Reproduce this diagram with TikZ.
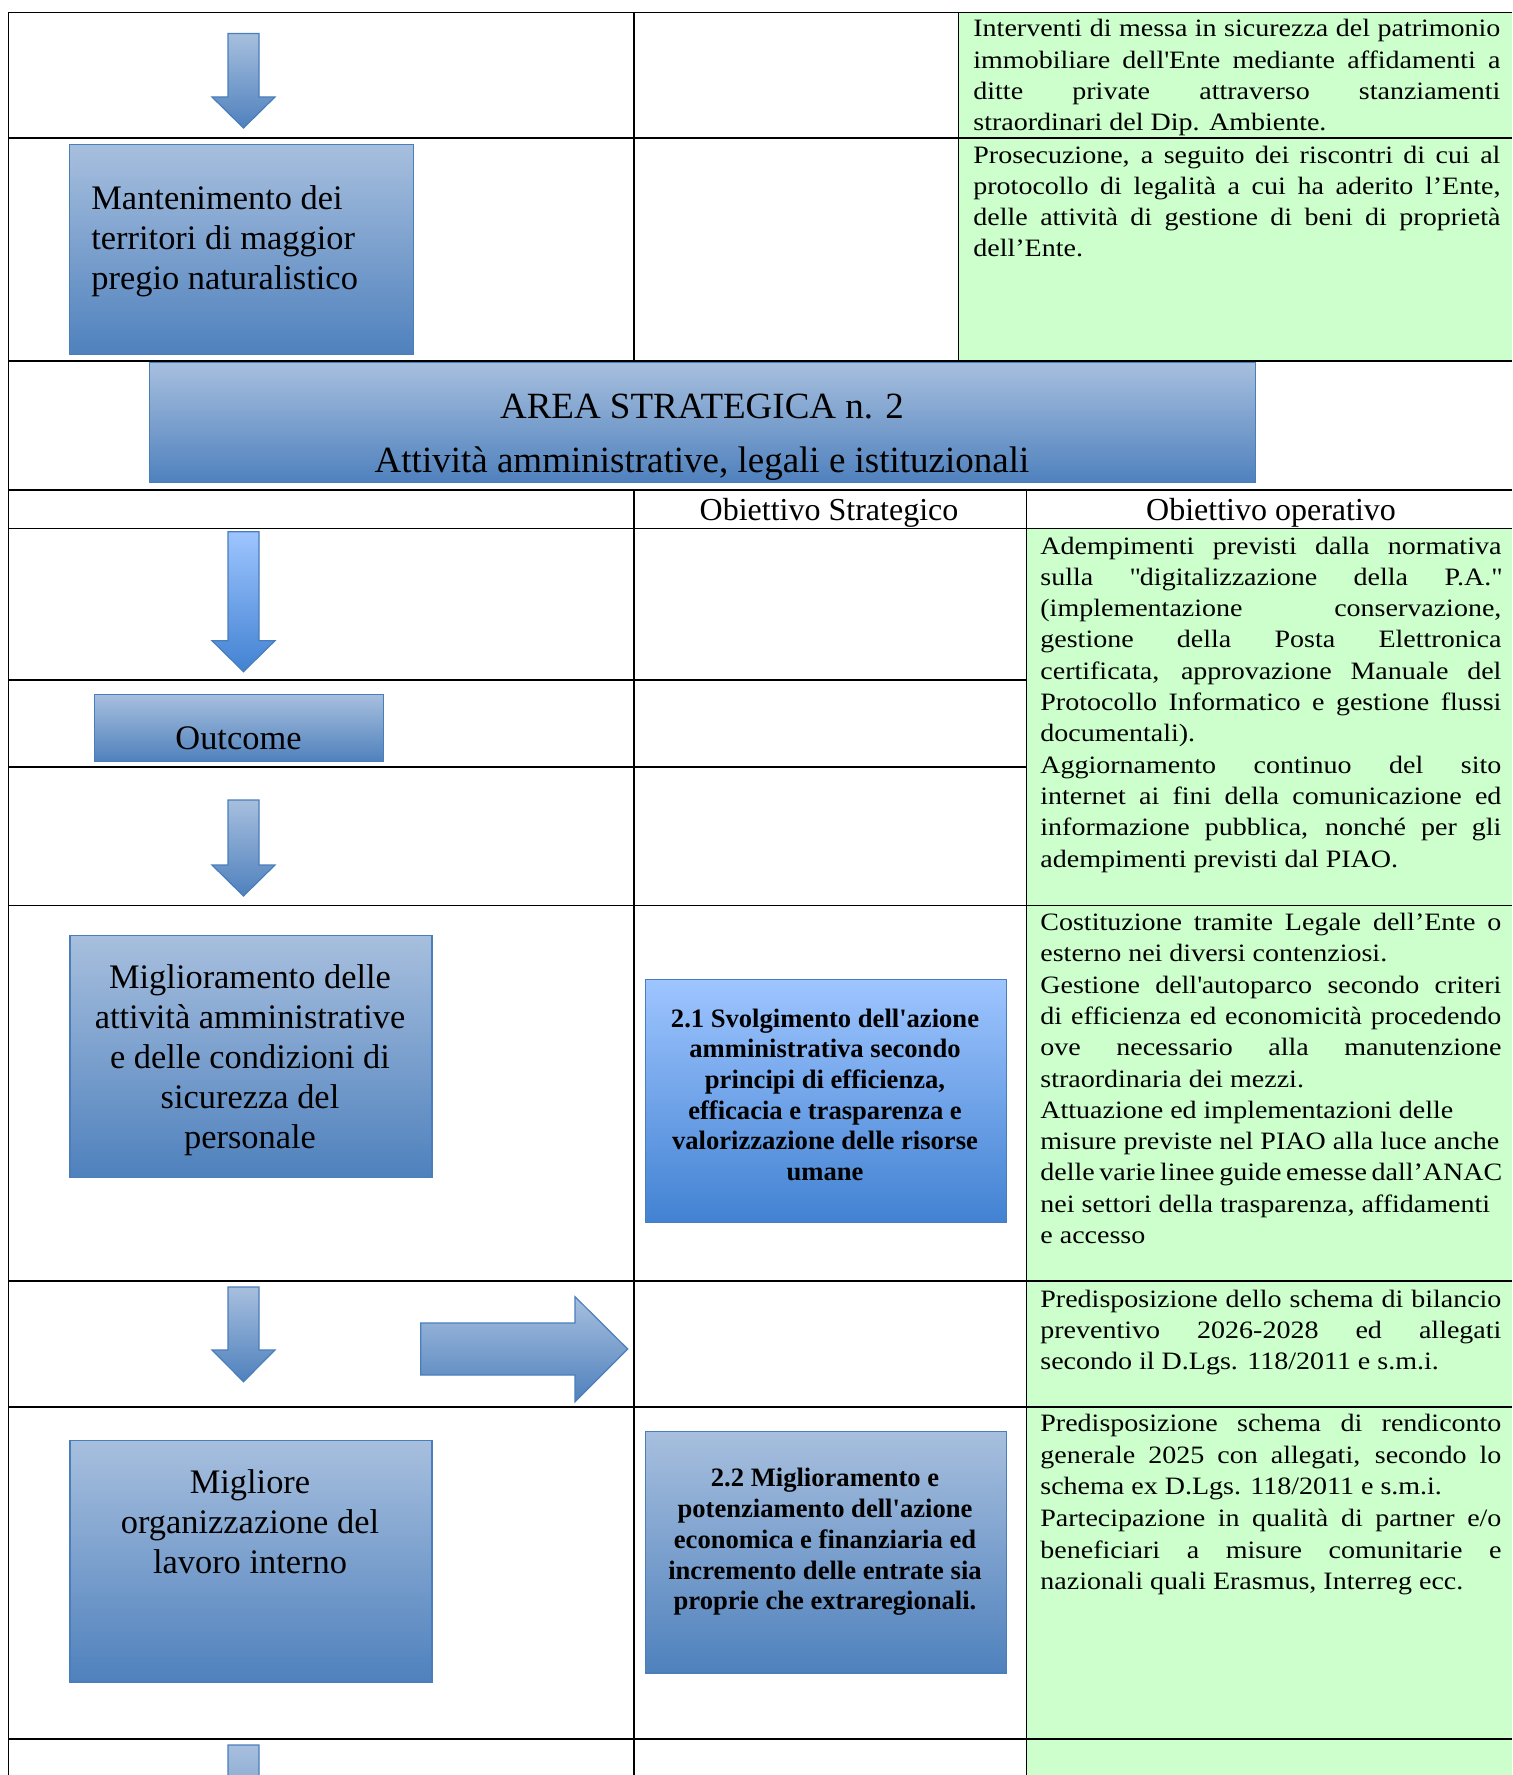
\documentclass[tikz,border=0pt]{standalone}
\usepackage{fontspec}
\setmainfont{Liberation Serif}
\newfontfamily\verde[FakeStretch=1.12]{Liberation Serif}

\definecolor{celeste}{HTML}{A7BFDE}
\definecolor{blu}{HTML}{4F81BD}
\definecolor{bordo}{HTML}{4A7EBB}
\definecolor{chiaro}{HTML}{9EC5FF}
\definecolor{vivo}{HTML}{4282D2}
\definecolor{verdino}{HTML}{CCFFCC}

% righe di testo: giustificata, a sinistra, centrata
\newcommand{\rigaj}[1]{\hbox to \hsize{#1}}
\newcommand{\rigal}[1]{\hbox to \hsize{#1\hfil}}
\newcommand{\rigac}[1]{\hbox to \hsize{\hfil#1\hfil}}
\newcommand{\blocco}[3]{\vtop{\hsize=#1\baselineskip=#2\lineskiplimit=-20pt\relax #3}}

\begin{document}
\begin{tikzpicture}[x=0.5pt,y=-0.5pt,
    linea/.style={line width=0.8pt},
    blubox/.style={draw=bordo, line width=0.6pt, top color=celeste, bottom color=blu, inner sep=0, anchor=north west},
    vivobox/.style={draw=bordo, line width=0.6pt, top color=chiaro, bottom color=vivo, inner sep=0, anchor=north west},
    freccia/.style={draw=bordo, line width=0.6pt, top color=celeste, bottom color=blu},
    frecciaviva/.style={draw=bordo, line width=0.6pt, top color=chiaro, bottom color=vivo},
    testo/.style={inner sep=0, anchor=base},
    cella/.style={inner sep=0, anchor=base west, font=\verde\fontsize{12.5}{15.6}\selectfont},
    titolo/.style={testo, font=\fontsize{17.2}{20}\selectfont},
    grassetto/.style={testo, font=\bfseries\fontsize{13.3}{15.4}\selectfont}]
    \useasboundingbox (0,0) rectangle (1512,1775);
    \clip (0,0) rectangle (1512,1775);

    % Celle verdi
    \fill[verdino] (958.5,12.5) rectangle (1512,361);
    \fill[verdino] (1026.5,528.5) rectangle (1512,1775);

    % Tabella
    \draw[linea] (8.5,12.5) -- (8.5,1775);
    \draw[linea] (634,12.5) -- (634,361);
    \draw[linea] (958.5,12.5) -- (958.5,361);
    \draw[linea] (634,490) -- (634,1775);
    \draw[linea] (1026.5,490) -- (1026.5,1775);
    \foreach \y in {12.5,138,361,490,528.5,905.5,1281,1407,1739}
        \draw[linea] (8.5,\y) -- (1512,\y);
    \foreach \y in {680,767}
        \draw[linea] (8.5,\y) -- (1026.5,\y);

    % Frecce
    \path[freccia] (228,33.5) -- (259,33.5) -- (259,97) -- (275,97) -- (243.5,128) -- (212,97) -- (228,97) -- cycle;
    \path[frecciaviva] (228,531.7) -- (259,531.7) -- (259,640.7) -- (275,640.7) -- (243.5,671.7) -- (212,640.7) -- (228,640.7) -- cycle;
    \path[freccia] (228,800) -- (259,800) -- (259,865) -- (275,865) -- (243.5,896) -- (212,865) -- (228,865) -- cycle;
    \path[freccia] (228,1287) -- (259,1287) -- (259,1350) -- (275,1350) -- (243.5,1381.7) -- (212,1350) -- (228,1350) -- cycle;
    \path[freccia] (228,1745) -- (259,1745) -- (259,1850) -- (275,1850) -- (243.5,1881) -- (212,1850) -- (228,1850) -- cycle;
    \path[freccia] (420.7,1323) -- (575,1323) -- (575,1296.7) -- (627.7,1349) -- (575,1401.7) -- (575,1375) -- (420.7,1375) -- cycle;

    % Riquadri
    \node[blubox, minimum width=171.75pt, minimum height=105pt] (mant) at (69,144) {};
    \node[blubox, minimum width=553pt, minimum height=60pt] (area) at (149,362) {};
    \node[blubox, minimum width=144.75pt, minimum height=33.35pt] (outc) at (93.5,694) {};
    \node[blubox, minimum width=181pt, minimum height=121pt] (migl) at (69.3,934.7) {};
    \node[vivobox, minimum width=180.4pt, minimum height=121.35pt] (os1) at (644.7,979) {};
    \node[blubox, minimum width=181pt, minimum height=120.65pt] (orga) at (69.3,1440) {};
    \node[blubox, minimum width=180.4pt, minimum height=120.8pt] (os2) at (644.7,1430.7) {};

    % Testi dei riquadri
    \node[titolo, anchor=base west] (mant-t) at (91,210)
        {\blocco{170pt}{20pt}{\rigal{Mantenimento dei}\rigal{territori di maggior}\rigal{pregio naturalistico}}};
    \begin{scope}
        \clip (area.north west) rectangle (area.south east);
        \node[testo, font=\fontsize{18.5}{26}\selectfont] (area-t) at (702,419)
            {\blocco{540pt}{27pt}{\rigac{AREA STRATEGICA n. 2}\rigac{Attività amministrative, legali e istituzionali}}};
    \end{scope}
    \node[titolo] (outc-t) at (238.5,749) {Outcome};
    \node[titolo] (migl-t) at (250,988)
        {\blocco{178pt}{20pt}{\rigac{Miglioramento delle}\rigac{attività amministrative}\rigac{e delle condizioni di}\rigac{sicurezza del}\rigac{personale}}};
    \node[titolo] (orga-t) at (250,1493)
        {\blocco{178pt}{20pt}{\rigac{Migliore}\rigac{organizzazione del}\rigac{lavoro interno}}};
    \node[grassetto] (os1-t) at (825,1027)
        {\blocco{176pt}{15.35pt}{\rigac{2.1 Svolgimento dell\textquotesingle azione}\rigac{amministrativa secondo}\rigac{principi di efficienza,}\rigac{efficacia e trasparenza e}\rigac{valorizzazione delle risorse}\rigac{umane}}};
    \node[grassetto] (os2-t) at (825,1486.7)
        {\blocco{176pt}{15.4pt}{\rigac{2.2 Miglioramento e}\rigac{potenziamento dell\textquotesingle azione}\rigac{economica e finanziaria ed}\rigac{incremento delle entrate sia}\rigac{proprie che extraregionali.}}};

    % Intestazioni
    \node[testo, font=\fontsize{16}{19}\selectfont] (h-str) at (829,520) {Obiettivo Strategico};
    \node[testo, font=\fontsize{16}{19}\selectfont] (h-op) at (1271,520) {Obiettivo operativo};

    % Obiettivi operativi
    \node[cella] (op1) at (973,37) {\blocco{263.5pt}{15.6pt}{%
        \rigaj{Interventi di messa in sicurezza del patrimonio}
        \rigaj{immobiliare dell\textquotesingle Ente mediante affidamenti a}
        \rigaj{ditte private attraverso stanziamenti}
        \rigal{straordinari del Dip. Ambiente.}}};
    \node[cella] (op2) at (973,163.3) {\blocco{263.5pt}{15.6pt}{%
        \rigaj{Prosecuzione, a seguito dei riscontri di cui al}
        \rigaj{protocollo di legalità a cui ha aderito l’Ente,}
        \rigaj{delle attività di gestione di beni di proprietà}
        \rigal{dell’Ente.}}};
    \node[cella] (op3) at (1040,554) {\blocco{230.5pt}{15.65pt}{%
        \rigaj{Adempimenti previsti dalla normativa}
        \rigaj{sulla \textquotedbl digitalizzazione della P.A.\textquotedbl}
        \rigaj{(implementazione conservazione,}
        \rigaj{gestione della Posta Elettronica}
        \rigaj{certificata, approvazione Manuale del}
        \rigaj{Protocollo Informatico e gestione flussi}
        \rigal{documentali).}
        \rigaj{Aggiornamento continuo del sito}
        \rigaj{internet ai fini della comunicazione ed}
        \rigaj{informazione pubblica, nonché per gli}
        \rigal{adempimenti previsti dal PIAO.}}};
    \node[cella] (op4) at (1040,930.5) {\blocco{230.5pt}{15.65pt}{%
        \rigaj{Costituzione tramite Legale dell’Ente o}
        \rigal{esterno nei diversi contenziosi.}
        \rigaj{Gestione dell\textquotesingle autoparco secondo criteri}
        \rigaj{di efficienza ed economicità procedendo}
        \rigaj{ove necessario alla manutenzione}
        \rigal{straordinaria dei mezzi.}
        \rigal{Attuazione ed implementazioni delle}
        \rigal{misure previste nel PIAO alla luce anche}
        \rigal{delle varie linee guide emesse dall’ANAC}
        \rigal{nei settori della trasparenza, affidamenti}
        \rigal{e accesso}}};
    \node[cella] (op5) at (1040,1307) {\blocco{230.5pt}{15.65pt}{%
        \rigaj{Predisposizione dello schema di bilancio}
        \rigaj{preventivo 2026-2028 ed allegati}
        \rigal{secondo il D.Lgs. 118/2011 e s.m.i.}}};
    \node[cella] (op6) at (1040,1431.7) {\blocco{230.5pt}{15.8pt}{%
        \rigaj{Predisposizione schema di rendiconto}
        \rigaj{generale 2025 con allegati, secondo lo}
        \rigal{schema ex D.Lgs. 118/2011 e s.m.i.}
        \rigaj{Partecipazione in qualità di partner e/o}
        \rigaj{beneficiari a misure comunitarie e}
        \rigal{nazionali quali Erasmus, Interreg ecc.}}};
\end{tikzpicture}
\end{document}
